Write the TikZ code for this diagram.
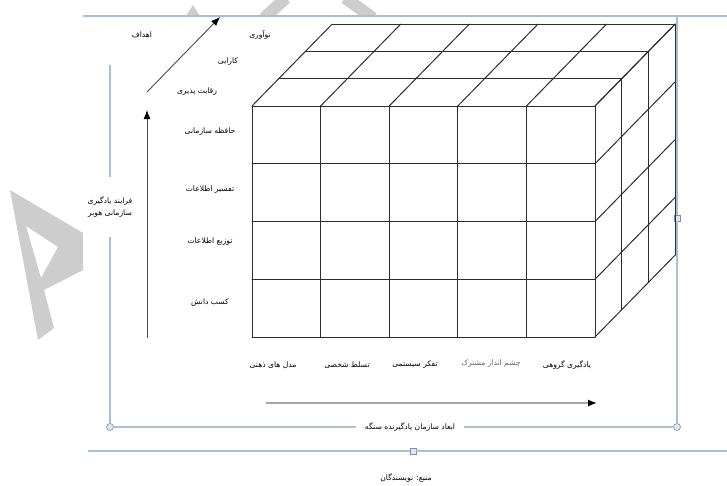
\documentclass[tikz,border=0pt]{standalone}
\usepackage{fontspec}
\newfontfamily\fafont[Script=Arabic]{DejaVu Sans}
\TeXXeTstate=1
\usetikzlibrary{arrows.meta}
\definecolor{ink}{RGB}{45,45,45}
\definecolor{frame}{RGB}{170,190,212}
\definecolor{handle}{RGB}{222,234,242}
\definecolor{wm}{RGB}{205,205,205}
\newcommand{\fatxt}[1]{\beginR #1\endR}
\newcommand{\colw}{68.6}
\newcommand{\rowh}{57.75}
\newcommand{\depx}{26.7}
\newcommand{\depy}{-27.3}
\tikzset{
  every picture/.style={x=1pt, y=-1pt, line width=0.8pt},
  grid/.style={draw=ink, line width=1pt, line cap=round},
  rim/.style={draw=frame, line width=1.1pt},
  knob/.style={circle, draw=frame!75!black, fill=handle, minimum size=7pt, inner sep=0pt, line width=0.6pt},
  tab/.style={rectangle, draw=frame!75!black, fill=handle, minimum size=6pt, inner sep=0pt, line width=0.6pt},
  axis/.style={-{Latex[length=9pt,width=7pt,color=black]}, draw=ink!85, line width=0.9pt},
  lbl/.style={font=\fontsize{7.6}{12}\selectfont\fafont, text=black, inner sep=1pt, align=center},
  wmark/.style={fill=wm, draw=none},
}
\begin{document}
\begin{tikzpicture}
  \useasboundingbox (0,0) rectangle (727,485);
  % watermark
  \begin{scope}
    \clip (0,150) rectangle (83,345);
    \fill[wmark, even odd rule] (10,190) -- (95,240) -- (95,264) -- (44,290) -- (54,328) -- (38,340) -- cycle
      (26,226) -- (41,278) -- (58,247) -- cycle;
  \end{scope}
  \begin{scope}
    \clip (150,0) rectangle (400,16);
    \fill[wmark] (186,16) -- (193,5) -- (200,16) -- cycle;
    \draw[wm, line width=12pt] (264,18) -- (286,-2);
    \draw[wm, line width=12pt] (345,-2) -- (373,18);
  \end{scope}

  % frame
  \coordinate (tl) at (83,16); \coordinate (tr) at (727,16); \coordinate (rt) at (677,16);
  \coordinate (lt) at (110,65);
  \coordinate (bl) at (88,451); \coordinate (br) at (727,451);
  \node[knob] (kl) at (110,427) {};
  \node[knob] (kr) at (677,427) {};
  \node[tab] (tabr) at (677,218) {};
  \node[tab] (tabb) at (413,451) {};
  \node[lbl, inner xsep=9pt] (dims) at (410,427) {\fatxt{ابعاد سازمان یادگیرنده سنگه}};
  \node[lbl, inner ysep=19pt] (huber) at (110,207) {\fatxt{فرایند یادگیری}\\\fatxt{سازمانی هوبر}};
  \draw[rim] (tl) -- (tr);
  \draw[rim] (rt) -- (tabr) -- (kr);
  \draw[rim] (lt) -- (huber.north); \draw[rim] (huber.south) -- (kl);
  \draw[rim] (kl) -- (dims.west); \draw[rim] (dims.east) -- (kr);
  \draw[rim] (bl) -- (tabb) -- (br);
  \node[lbl] (src) at (406,478) {\fatxt{منبع: نویسندگان}};

  % cube
  \foreach \i in {0,...,5} {
    \draw[grid] ({252+\i*\colw},106) -- ({252+\i*\colw},337);
    \draw[grid] ({252+\i*\colw},106) -- ({252+\i*\colw+3*\depx},{106+3*\depy});
  }
  \foreach \j in {0,...,4} {
    \draw[grid] (252,{106+\j*\rowh}) -- (595,{106+\j*\rowh});
    \draw[grid] (595,{106+\j*\rowh}) -- ({595+3*\depx},{106+\j*\rowh+3*\depy});
  }
  \foreach \k in {1,2,3} {
    \draw[grid] ({252+\k*\depx},{106+\k*\depy}) -- ({595+\k*\depx},{106+\k*\depy});
    \draw[grid] ({595+\k*\depx},{106+\k*\depy}) -- ({595+\k*\depx},{337+\k*\depy});
  }

  % depth axis
  \node[lbl] (goals) at (142,35) {\fatxt{اهداف}};
  \node[lbl] (innov) at (260,35) {\fatxt{نوآوری}};
  \node[lbl] (effic) at (228,62) {\fatxt{کارایی}};
  \node[lbl] (compet) at (197,92) {\fatxt{رقابت پذیری}};
  % rows
  \node[lbl] (memory) at (210,132) {\fatxt{حافظه سازمانی}};
  \node[lbl] (interp) at (210,190) {\fatxt{تفسیر اطلاعات}};
  \node[lbl] (distr) at (210,242) {\fatxt{توزیع اطلاعات}};
  \node[lbl] (acq) at (210,303) {\fatxt{کسب دانش}};
  % columns
  \node[lbl] (mental) at (273,365) {\fatxt{مدل های ذهنی}};
  \node[lbl] (mastery) at (347,365) {\fatxt{تسلط شخصی}};
  \node[lbl] (systems) at (415,365) {\fatxt{تفکر سیستمی}};
  \node[lbl, text=black!60] (vision) at (491,364) {\fatxt{چشم انداز مشترک}};
  \node[lbl] (team) at (567,365) {\fatxt{یادگیری گروهی}};

  % axes
  \coordinate (vfoot) at (147,338); \coordinate (vtip) at (147,110);
  \coordinate (dfoot) at (147,92); \coordinate (dtip) at (220,17);
  \coordinate (hfoot) at (266,403); \coordinate (htip) at (597,403);
  \draw[axis] (vfoot) -- (vtip);
  \draw[axis] (dfoot) -- (dtip);
  \draw[axis, draw=black!35, line width=1.4pt] (hfoot) -- (htip);
\end{tikzpicture}
\end{document}
